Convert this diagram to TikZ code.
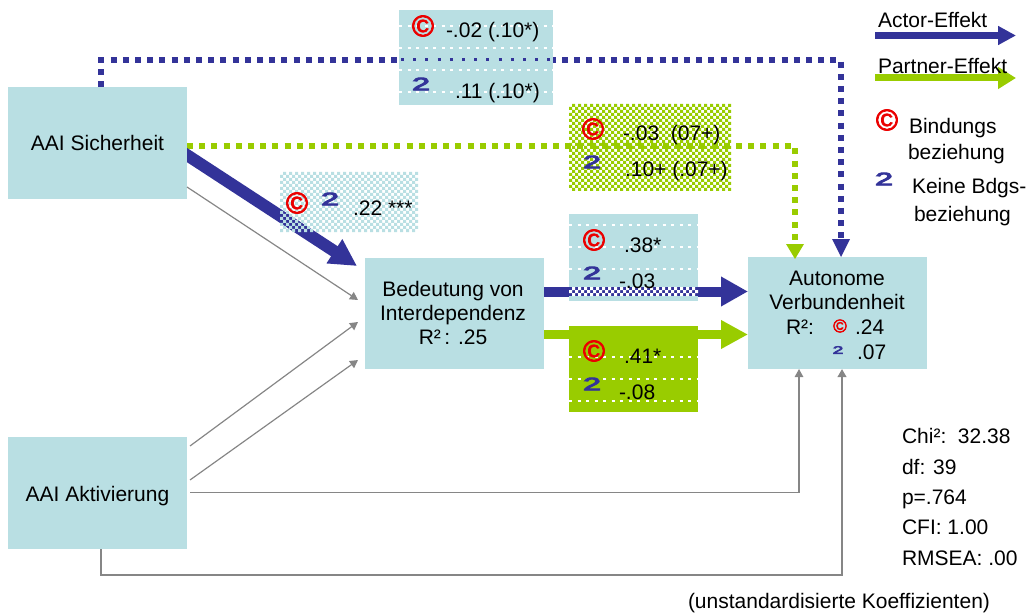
\documentclass[tikz,border=0pt]{standalone}
\usepackage{fontspec}
\usepackage{graphicx}
\setmainfont{Liberation Sans}
\newfontfamily\iconfont[FakeBold=2.5]{Liberation Sans}
\newfontfamily\digitfont[FakeBold=5]{Liberation Sans}
\usetikzlibrary{arrows.meta,calc}
\definecolor{boxc}{HTML}{B9DFE3}
\definecolor{actor}{HTML}{333399}
\definecolor{partner}{HTML}{99CC00}
\definecolor{linkc}{HTML}{868686}
\newcommand{\bindicon}[1][1]{\scalebox{#1}{\textcolor{red!92!black}{\fontsize{30}{30}\iconfont\selectfont ©}}}
\newcommand{\keineicon}[1][1]{\scalebox{#1}{\textcolor{actor}{\scalebox{1.6}[.9]{\fontsize{20}{20}\digitfont\selectfont 2}}}}
% checker: #1 x0, #2 y0, #3 columns, #4 rows, #5 colour (3 px squares)
\newcommand{\checker}[5]{%
  \fill[#5] foreach \cc in {1,...,#3} { foreach \rr in {1,...,#4} {
    \ifodd\numexpr\cc+\rr\relax
      (#1+\cc*3-3,#2+\rr*3-3) rectangle ++(3,3)
    \fi } };}
\tikzset{
  x=1pt,y=-1pt,
  every node/.style={inner sep=0pt,outer sep=0pt,font=\fontsize{21}{24}\selectfont},
  mainbox/.style={fill=boxc,minimum width=179pt,minimum height=112pt,align=center,anchor=north west},
  annot/.style={anchor=north west},
  txt/.style={anchor=base west,yshift=-1pt},
  txtc/.style={anchor=base,yshift=-1pt},
  ic/.style={anchor=center},
  whitedots/.style={draw=white,line width=1.5pt,dash pattern=on 3pt off 5.5pt},
  thinlink/.style={draw=linkc,line width=1.2pt,-{Triangle[length=8pt,width=8.5pt]}},
  thicklink/.style={draw=linkc,line width=2pt,-{Triangle[length=8pt,width=8.5pt]}},
  actorbar/.style={draw=actor,line width=10pt,-{Triangle[length=27pt,width=28pt]}},
  partnerbar/.style={draw=partner,line width=9pt,-{Triangle[length=27pt,width=27pt]}},
  dotline/.style={line width=6pt,dash pattern=on 6pt off 6.2pt},
}
\begin{document}
\begin{tikzpicture}
\useasboundingbox (0,0) rectangle (1029,615);
% main boxes
\node[mainbox] (sich) at (8,87) {};
\node[txtc] (sicht) at (97.5,150) {AAI Sicherheit};
\node[mainbox] (akt) at (8,437) {};
\node[txtc] (aktt) at (97.5,500) {AAI Aktivierung};
\node[mainbox,minimum height=111pt] (bed) at (365,258) {};
\node[anchor=center,align=center] (bedt) at (453,313) {Bedeutung von\\Interdependenz\\R²\,: .25};
\node[mainbox] (aut) at (748,257) {};
\node[txtc] (autt1) at (837,284) {Autonome};
\node[txtc] (autt2) at (837,308) {Verbundenheit};
\node[txt] (autr) at (786,333) {R²:};
\node[ic] (autc) at (840,326) {\bindicon[.62]};
\node[txt] (autv1) at (855,333) {.24};
\node[ic] (autk) at (838,350) {\keineicon[.6]};
\node[txt] (autv2) at (857,358) {.07};
% free ends
\coordinate (s1) at (101,87);
\coordinate (s1a) at (101,60);
\coordinate (s1b) at (841,60);
\coordinate (s1c) at (841,257);
\coordinate (s2) at (187,146.5);
\coordinate (s2a) at (795,146.5);
\coordinate (s2b) at (795,259);
% dotted effects
\draw[draw=actor,dotline] (s1) -- (s1a) -- (s1b) -- ($(s1c)+(0,-18)$);
\fill[actor] (s1c) -- ++(-9,-18) -- ++(18,0) -- cycle;
\draw[draw=partner,dotline] (s2) -- (s2a) -- ($(s2b)+(0,-15)$);
\fill[partner] (s2b) -- ++(-9,-15) -- ++(18,0) -- cycle;
% solid effects
\begin{scope}
\clip (187,0) rectangle (1029,615);
\draw[draw=actor,line width=12pt,-{Triangle[length=27pt,width=27pt]}] (180,150.5) -- (357,266);
\end{scope}
\draw[actorbar] (544,291.5) -- (748,291.5);
\draw[partnerbar] (544,334.5) -- (748,334.5);
% thin links
\draw[thinlink] (187,187) -- (358,300);
\draw[thinlink] (190,446) -- (358,322);
\draw[thinlink] (190,480) -- (358,360);
\draw[thinlink] (190,492.5) -| (799,369);
\draw[thicklink] (101,549) |- (842,575) -- (842,369);
% annotation 1
\node[annot,fill=boxc,minimum width=154pt,minimum height=95pt] (a1) at (399,10) {};
\foreach \yy in {26,48,70,92} \draw[whitedots] (399,\yy) -- (553,\yy);
\draw[draw=actor,line width=3pt,dash pattern=on 3pt off 9.2pt] (401,60) -- (553,60);
\node[ic] (a1c) at (423,26) {\bindicon};
\node[txt] (a1v) at (446,37) {-.02 (.10*)};
\node[ic] (a1k) at (421,84) {\keineicon};
\node[txt] (a1w) at (455,98) {.11 (.10*)};
% annotation 2
\checker{569}{104}{54}{29}{partner}
\node[annot,minimum width=162pt,minimum height=86pt] (a2) at (569,104) {};
\node[ic] (a2c) at (593,129) {\bindicon};
\node[txt] (a2v) at (623,140) {-.03\ \ (07+)};
\node[ic] (a2k) at (592,162) {\keineicon};
\node[txt] (a2w) at (625,176) {.10+ (.07+)};
% annotation 3
\checker{280}{172}{46}{20}{boxc}
\node[annot,minimum width=137pt,minimum height=61pt] (a3) at (280,172) {};
\node[ic] (a3c) at (297,203) {\bindicon};
\node[ic] (a3k) at (330,199) {\keineicon};
\node[txt] (a3v) at (353,214) {.22 ***};
% annotation 4
\node[annot,fill=boxc,minimum width=129pt,minimum height=87pt] (a4) at (569,214) {};
\foreach \yy in {225,247,269} \draw[whitedots] (569,\yy) -- (698,\yy);
\fill[actor] (569,287) rectangle (698,296);
\checker{569}{287}{43}{3}{white}
\node[ic] (a4c) at (594,240) {\bindicon};
\node[txt] (a4v) at (624,251) {.38*};
\node[ic] (a4k) at (592,273) {\keineicon};
\node[txt] (a4w) at (619,287) {-.03};
% annotation 5
\node[annot,fill=partner,minimum width=129pt,minimum height=86pt] (a5) at (569,326) {};
\foreach \yy in {357,379,401} \draw[whitedots] (569,\yy) -- (698,\yy);
\node[ic] (a5c) at (594,351) {\bindicon};
\node[txt] (a5v) at (624,362) {.41*};
\node[ic] (a5k) at (592,384) {\keineicon};
\node[txt] (a5w) at (619,398) {-.08};
% legend
\node[txt] (l1) at (878,27) {Actor-Effekt};
\coordinate (l1a) at (875,35.5);
\coordinate (l1b) at (1016,35.5);
\draw[draw=actor,line width=7.5pt,-{Triangle[length=18pt,width=18pt]}] (l1a) -- (l1b);
\coordinate (l2a) at (875,78);
\coordinate (l2b) at (1016,78);
\draw[draw=partner,line width=7pt,-{Triangle[length=18pt,width=21pt]}] (l2a) -- (l2b);
\node[txt] (l2) at (878,73) {Partner-Effekt};
\node[ic] (l3c) at (887,120) {\bindicon};
\node[txt] (l3) at (909,133) {Bindungs};
\node[txt] (l3b) at (908,159) {beziehung};
\node[ic] (l4k) at (884,179) {\keineicon};
\node[txt] (l4) at (912,193) {Keine Bdgs-};
\node[txt] (l4b) at (914,221) {beziehung};
% statistics
\node[txt] (st1) at (902,442) {Chi²:\ \ 32.38};
\node[txt] (st2) at (902,473) {df: 39};
\node[txt] (st3) at (902,503) {p=.764};
\node[txt] (st4) at (902,533) {CFI: 1.00};
\node[txt] (st5) at (902,564) {RMSEA: .00};
\node[txt] (note) at (688,607) {(unstandardisierte Koeffizienten)};
\end{tikzpicture}
\end{document}
